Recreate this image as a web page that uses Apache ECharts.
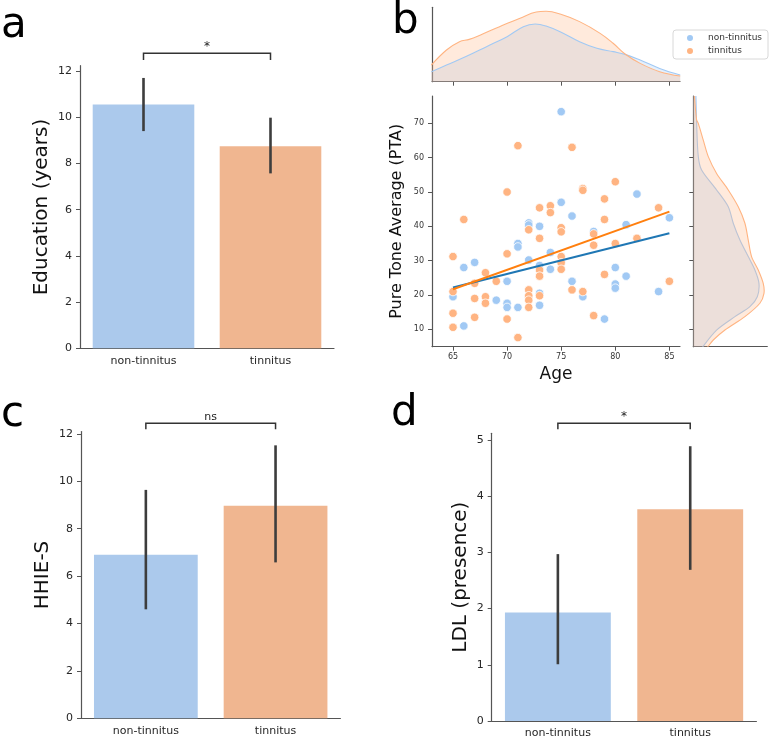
<!DOCTYPE html>
<html><head><meta charset="utf-8">
<script src="https://cdn.jsdelivr.net/npm/echarts@6/dist/echarts.min.js"></script>
<style>html,body{margin:0;padding:0;background:#fff}#c{width:769px;height:739px}</style>
</head><body><div id="c"></div>
<script>
// ---------- data ----------
const groups = ['non-tinnitus', 'tinnitus'];
const eduMean = [10.55, 8.74];
const eduCI = [[9.40, 11.70], [7.57, 9.98]];
const hhieMean = [6.90, 8.97];
const hhieCI = [[4.60, 9.64], [6.58, 11.52]];
const ldlMean = [1.93, 3.77];
const ldlCI = [[1.01, 2.97], [2.69, 4.89]];
const sigLabels = ['*', 'ns', '*'];

const eduTicks = [0, 2, 4, 6, 8, 10, 12];
const hhieTicks = [0, 2, 4, 6, 8, 10, 12];
const ldlTicks = [0, 1, 2, 3, 4, 5];
const ageTicks = [65, 70, 75, 80, 85];
const ptaTicks = [10, 20, 30, 40, 50, 60, 70];

// scatter: [age, PTA]
const ptaNon = [
  [65,19.5],[66,28],[66,11],[67,29.5],[69,18.5],[70,24],[70,17.6],[70,16.4],
  [71,35],[71,34],[71,16.4],[72,41],[72,40.4],[72,30.2],[72,19.7],
  [73,40],[73,28.6],[73,20.5],[73,17],[74,32.4],[74,27.5],[75,73.4],[75,47],
  [76,43],[76,24],[77,19.5],[78,38.5],[79,13],[80,28],[80,23.2],[80,22],
  [81,40.5],[81,25.5],[82,49.4],[84,21],[85,42.5]
];
const ptaTin = [
  [65,31.2],[65,21],[65,14.7],[65,10.6],[66,42],[67,23.4],[67,19],[67,13.5],
  [68,26.5],[68,19.5],[68,17.6],[69,24],[70,50],[70,32],[70,13],[71,63.5],[71,7.6],
  [72,39],[72,21.5],[72,19.8],[72,18.5],[72,16.4],[73,45.4],[73,36.5],[73,27.3],
  [73,25.5],[73,19.8],[74,46],[74,44],[75,39.6],[75,38.4],[75,31.2],[75,29.4],
  [75,27.5],[76,63],[76,21.5],[77,51],[77,50.5],[77,21],[78,37.8],[78,34.5],
  [78,14],[79,48],[79,42],[79,26],[80,53],[80,35],[82,36.5],[84,45.4],[85,24]
];
const fitNon = [[65, 22.2], [85, 38.0]];
const fitTin = [[65, 21.7], [85, 44.3]];

// marginal KDE of age: [age, density]
const kdeAgeNon = [[63.0,0.0108],[64.4,0.0179],[66.3,0.0276],[68.1,0.0377],[70.0,0.0484],
  [71.5,0.0592],[72.6,0.0621],[73.6,0.0599],[74.9,0.0538],[76.7,0.0430],[78.3,0.0359],
  [79.8,0.0323],[80.9,0.0294],[82.3,0.0233],[84.1,0.0143],[86.0,0.0072]];
const kdeAgeTin = [[63.0,0.0179],[64.4,0.0341],[65.6,0.0430],[66.5,0.0455],[67.5,0.0500],
  [69.3,0.0592],[71.2,0.0682],[72.7,0.0750],[73.6,0.0757],[74.9,0.0728],[76.7,0.0646],
  [78.6,0.0520],[79.8,0.0413],[80.9,0.0298],[82.3,0.0197],[84.1,0.0108],[86.0,0.0061]];
// marginal KDE of PTA: [PTA, density]
const kdePtaNon = [[78.2,0.0014],[70.0,0.0018],[60.3,0.0027],[56.4,0.0045],[50.6,0.0126],
  [45.7,0.0189],[40.9,0.0216],[36.0,0.0252],[31.2,0.0297],[27.3,0.0333],[23.4,0.0355],
  [19.5,0.0346],[16.6,0.0306],[13.7,0.0225],[9.8,0.0126],[5.1,0.0054],[3.5,0.0040]];
const kdePtaTin = [[78.0,0.0006],[71.0,0.0018],[70.0,0.0027],[65.1,0.0054],[60.3,0.0081],
  [55.4,0.0126],[50.6,0.0189],[45.7,0.0243],[40.9,0.0279],[36.0,0.0297],[31.2,0.0315],
  [27.3,0.0351],[23.4,0.0378],[20.5,0.0382],[17.6,0.0360],[13.7,0.0279],[9.8,0.0171],
  [6.9,0.0108],[5.1,0.0081],[3.5,0.0060]];

// ---------- styles ----------
const FONT = 'DejaVu Sans';
const barColors = ['#abc9ec', '#f0b690'];
const ptColors = ['#a1c9f4', '#ffb482'];
const fitColors = ['#1f77b4', '#ff7f0e'];
const kdeFill = ['rgba(161,201,244,0.28)', 'rgba(255,180,130,0.28)'];
const AX = '#555';
const axisLine = {show: true, onZero: false, lineStyle: {color: AX, width: 1.2}};

function barYAxis(grid, max, ticks) {
  return {type: 'value', gridIndex: grid, min: 0, max: max,
    axisLine: axisLine, splitLine: {show: false},
    axisTick: {show: true, length: 4, lineStyle: {color: AX}, customValues: ticks},
    axisLabel: {fontSize: 11, color: '#262626', fontFamily: FONT, margin: 8, customValues: ticks}};
}
function barCatAxis(grid) {
  return {type: 'category', gridIndex: grid, data: groups, boundaryGap: true,
    axisLine: axisLine, axisTick: {alignWithLabel: true, length: 4, lineStyle: {color: AX}},
    axisLabel: {fontSize: 11, color: '#262626', fontFamily: FONT, margin: 7}};
}
function hiddenX(grid) {
  return {type: 'value', gridIndex: grid, min: -0.5, max: 1.5, show: false,
    axisLine: {show: false, onZero: false}, axisTick: {show: false}, axisLabel: {show: false}, splitLine: {show: false}};
}
function barSeries(xi, yi, means) {
  return {type: 'bar', xAxisIndex: xi, yAxisIndex: yi, barWidth: '80%',
    data: means.map((v, i) => ({value: v, itemStyle: {color: barColors[i]}})), z: 2};
}
function errSeries(xi, yi, cis) {
  return {type: 'custom', xAxisIndex: xi, yAxisIndex: yi, z: 5,
    data: cis.map((c, i) => [i, c[0], c[1]]), encode: {x: 0, y: [1, 2]},
    renderItem: (p, api) => {
      const a = api.coord([api.value(0), api.value(1)]);
      const b = api.coord([api.value(0), api.value(2)]);
      return {type: 'line', shape: {x1: a[0], y1: a[1], x2: b[0], y2: b[1]},
        style: {stroke: '#3d3d3d', lineWidth: 2.6}};
    }};
}
function bracketSeries(xi, yi, lo, hi, text, dy, fs) {
  return {type: 'custom', xAxisIndex: xi, yAxisIndex: yi, z: 5,
    data: [[0, 1, lo, hi]], encode: {x: [0, 1], y: [2, 3]},
    renderItem: (p, api) => {
      const a = api.coord([api.value(0), api.value(2)]);
      const b = api.coord([api.value(0), api.value(3)]);
      const c = api.coord([api.value(1), api.value(3)]);
      const d = api.coord([api.value(1), api.value(2)]);
      return {type: 'group', children: [
        {type: 'polyline', shape: {points: [a, b, c, d]}, style: {stroke: '#333', lineWidth: 1.5, fill: null}},
        {type: 'text', style: {text: text, x: (b[0] + c[0]) / 2, y: b[1] - dy, align: 'center',
          verticalAlign: 'middle', font: fs + 'px ' + FONT, fill: '#222'}}
      ]};
    }};
}
function rightKde(arr, k) {
  return {type: 'custom', xAxisIndex: 4, yAxisIndex: 3, clip: true, z: 3,
    data: [[0, 40]], encode: {x: 0, y: 1},
    renderItem: (p, api) => {
      const pts = arr.map(q => api.coord([q[1], q[0]]));
      const base = arr.slice().reverse().map(q => api.coord([0, q[0]]));
      return {type: 'group', children: [
        {type: 'polygon', shape: {points: pts.concat(base), smooth: 0.3}, style: {fill: kdeFill[k]}},
        {type: 'polyline', shape: {points: pts, smooth: 0.3}, style: {stroke: ptColors[k], lineWidth: 1.1, fill: null}}
      ]};
    }};
}

const AGE_MIN = 63.06, AGE_MAX = 85.98, PTA_MIN = 4.95, PTA_MAX = 77.96;
const letterStyle = {fontSize: 42, fontWeight: 'normal', color: '#000', fontFamily: FONT};

const option = {
  animation: false,
  backgroundColor: '#fff',
  title: [
    {text: 'a', left: 1, top: 5, padding: 0, textStyle: letterStyle},
    {text: 'b', left: 392, top: 1, padding: 0, textStyle: letterStyle},
    {text: 'c', left: 1, top: 394, padding: 0, textStyle: letterStyle},
    {text: 'd', left: 391, top: 393, padding: 0, textStyle: letterStyle}
  ],
  legend: {
    orient: 'vertical', left: 673, top: 30, data: groups, icon: 'circle',
    itemWidth: 26, itemHeight: 8, itemGap: 3, padding: [3, 6, 3, 12],
    borderColor: '#d8d8d8', borderWidth: 1, borderRadius: 3, backgroundColor: '#fff',
    textStyle: {fontSize: 9, color: '#333', fontFamily: FONT}
  },
  grid: [
    {left: 80, top: 65.7, width: 254, height: 282.6},      // a
    {left: 432, top: 96, width: 248, height: 250.7},       // b scatter
    {left: 432, top: 7.3, width: 248, height: 74.4},       // b top marginal
    {left: 693.3, top: 96, width: 74, height: 250.7},      // b right marginal
    {left: 81, top: 431.6, width: 259.4, height: 286.7},   // c
    {left: 491.7, top: 433.3, width: 264.7, height: 287.7} // d
  ],
  xAxis: [
    barCatAxis(0), hiddenX(0),
    {type: 'value', gridIndex: 1, min: AGE_MIN, max: AGE_MAX, axisLine: axisLine, splitLine: {show: false},
      axisTick: {show: true, length: 4, lineStyle: {color: AX}, customValues: ageTicks},
      axisLabel: {fontSize: 8, color: '#333', fontFamily: FONT, margin: 6, customValues: ageTicks},
      name: 'Age', nameLocation: 'middle', nameGap: 19, nameTextStyle: {fontSize: 17, color: '#111', fontFamily: FONT}},
    {type: 'value', gridIndex: 2, min: AGE_MIN, max: AGE_MAX, axisLine: axisLine, splitLine: {show: false},
      axisTick: {show: true, length: 4, lineStyle: {color: AX}, customValues: ageTicks}, axisLabel: {show: false}},
    {type: 'value', gridIndex: 3, min: 0, max: 0.04, axisLine: axisLine, splitLine: {show: false},
      axisTick: {show: false}, axisLabel: {show: false}},
    barCatAxis(4), hiddenX(4),
    barCatAxis(5), hiddenX(5)
  ],
  yAxis: [
    Object.assign(barYAxis(0, 12.23, eduTicks), {name: 'Education (years)', nameLocation: 'middle', nameGap: 28,
      nameTextStyle: {fontSize: 20, color: '#111', fontFamily: FONT}}),
    {type: 'value', gridIndex: 1, min: PTA_MIN, max: PTA_MAX, axisLine: axisLine, splitLine: {show: false},
      axisTick: {show: true, length: 4, lineStyle: {color: AX}, customValues: ptaTicks},
      axisLabel: {fontSize: 8, color: '#333', fontFamily: FONT, margin: 8, customValues: ptaTicks},
      name: 'Pure Tone Average (PTA)', nameLocation: 'middle', nameGap: 27,
      nameTextStyle: {fontSize: 16, color: '#111', fontFamily: FONT}},
    {type: 'value', gridIndex: 2, min: 0, max: 0.08, axisLine: axisLine, splitLine: {show: false},
      axisTick: {show: false}, axisLabel: {show: false}},
    {type: 'value', gridIndex: 3, min: PTA_MIN, max: PTA_MAX, axisLine: axisLine, splitLine: {show: false},
      axisTick: {show: true, length: 4, lineStyle: {color: AX}, customValues: ptaTicks}, axisLabel: {show: false}},
    Object.assign(barYAxis(4, 12.1, hhieTicks), {name: 'HHIE-S', nameLocation: 'middle', nameGap: 28,
      nameTextStyle: {fontSize: 20, color: '#111', fontFamily: FONT}}),
    Object.assign(barYAxis(5, 5.12, ldlTicks), {name: 'LDL (presence)', nameLocation: 'middle', nameGap: 21,
      nameTextStyle: {fontSize: 20, color: '#111', fontFamily: FONT}})
  ],
  series: [
    // panel a
    barSeries(0, 0, eduMean), errSeries(1, 0, eduCI), bracketSeries(1, 0, 12.475, 12.765, sigLabels[0], 6, 12),
    // panel c
    barSeries(5, 4, hhieMean), errSeries(6, 4, hhieCI), bracketSeries(6, 4, 12.2, 12.45, sigLabels[1], 6.5, 11),
    // panel d
    barSeries(7, 5, ldlMean), errSeries(8, 5, ldlCI), bracketSeries(8, 5, 5.19, 5.297, sigLabels[2], 6, 12),
    // panel b scatter
    {name: groups[0], type: 'scatter', xAxisIndex: 2, yAxisIndex: 1, data: ptaNon, symbolSize: 8.5, z: 3,
      itemStyle: {color: ptColors[0], borderColor: '#fff', borderWidth: 0.8, opacity: 1}},
    {name: groups[1], type: 'scatter', xAxisIndex: 2, yAxisIndex: 1, data: ptaTin, symbolSize: 8.5, z: 3,
      itemStyle: {color: ptColors[1], borderColor: '#fff', borderWidth: 0.8, opacity: 1}},
    {name: 'fit-non', type: 'line', xAxisIndex: 2, yAxisIndex: 1, data: fitNon, showSymbol: false, symbol: 'none', z: 4,
      lineStyle: {color: fitColors[0], width: 2}},
    {name: 'fit-tin', type: 'line', xAxisIndex: 2, yAxisIndex: 1, data: fitTin, showSymbol: false, symbol: 'none', z: 4,
      lineStyle: {color: fitColors[1], width: 2}},
    // top marginal KDE
    {name: 'kde-age-non', type: 'line', xAxisIndex: 3, yAxisIndex: 2, data: kdeAgeNon, smooth: 0.4, symbol: 'none',
      lineStyle: {color: ptColors[0], width: 1.1}, areaStyle: {color: kdeFill[0], opacity: 1}},
    {name: 'kde-age-tin', type: 'line', xAxisIndex: 3, yAxisIndex: 2, data: kdeAgeTin, smooth: 0.4, symbol: 'none',
      lineStyle: {color: ptColors[1], width: 1.1}, areaStyle: {color: kdeFill[1], opacity: 1}},
    // right marginal KDE
    rightKde(kdePtaNon, 0), rightKde(kdePtaTin, 1)
  ]
};
const chart = echarts.init(document.getElementById('c'), null, {renderer: 'canvas'});
chart.setOption(option);
</script></body></html>
